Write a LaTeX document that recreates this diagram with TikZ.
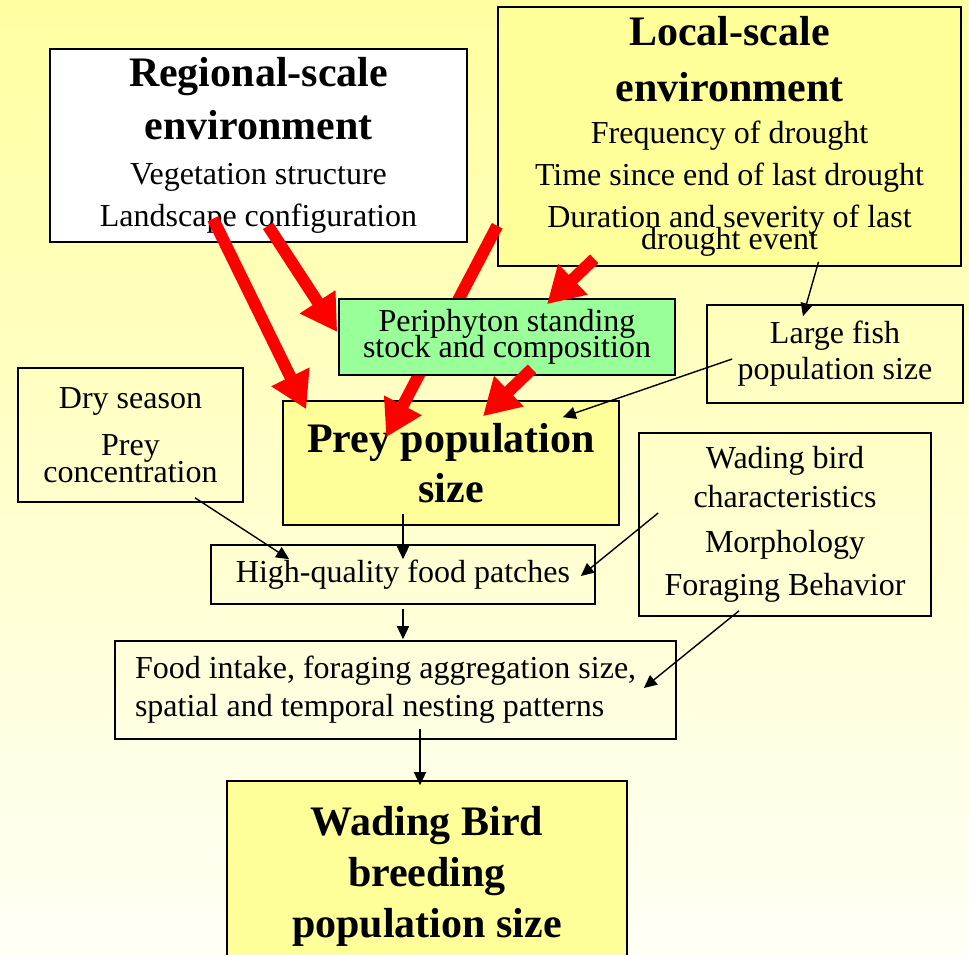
\documentclass[tikz,border=0pt]{standalone}
\usepackage{fontspec}
\setmainfont{Liberation Serif}
\usetikzlibrary{arrows.meta}
\setlength{\lineskiplimit}{-100pt}

\newcommand{\headfont}{\fontsize{42}{50}\selectfont\bfseries}
\definecolor{boxyellow}{RGB}{255,255,153}
\definecolor{boxgreen}{RGB}{153,255,153}

\tikzset{
	box/.style={draw, line width=1.6pt, inner sep=0pt, align=center,
		font=\fontsize{32}{42}\selectfont},
	headbox/.style={box, fill=boxyellow, font=\headfont},
	redarrow/.style={draw=red, line width=12pt, -{Triangle[length=36pt,width=40pt]}},
	blackarrow/.style={line width=1.4pt, -{Triangle[length=13pt,width=12pt]}},
}

\begin{document}
\begin{tikzpicture}[x=1pt,y=-1pt]
		\useasboundingbox (0,0) rectangle (969,954);
		\clip (0,0) rectangle (969,954);
		\shade[top color={rgb,255:red,255;green,255;blue,160},
			middle color={rgb,255:red,255;green,255;blue,218},
			bottom color={rgb,255:red,255;green,255;blue,246}] (0,0) rectangle (969,954);
		
		\node[box, fill=white, minimum width=417pt, minimum height=193pt] (reg) at (258.5,145.5)
			{{\headfont Regional-scale}\\[11pt]{\headfont environment}\\[3pt]Vegetation structure\\Landscape configuration};
		\node[box, fill=boxyellow, minimum width=463pt, minimum height=259pt] (loc) at (729.5,136.5)
			{{\headfont Local-scale}\\[14pt]{\headfont environment}\\Frequency of drought\\Time since end of last drought\\Duration and severity of last\\[-20pt]drought event};
		\node[box, minimum width=256pt, minimum height=98pt] (fish) at (835,354)
			{Large fish\\[-6pt]population size};
		\node[headbox, minimum width=336pt, minimum height=124pt] (prey) at (451,463)
			{Prey population\\size};
		\node[box, minimum width=225pt, minimum height=134pt] (dry) at (130.5,435)
			{Dry season\\[5pt]Prey\\[-15pt]concentration};
		\node[box, minimum width=384pt, minimum height=59pt] (hq) at (403,574.5)
			{High-quality food patches};
		\node[box, minimum width=292pt, minimum height=183pt] (wad) at (785,524.5)
			{Wading bird\\[-3pt]characteristics\\[3pt]Morphology\\[1pt]Foraging Behavior};
		\node[box, align=flush left, text width=521pt, inner xsep=20pt, minimum height=98pt] (food) at (395.5,690)
			{Food intake, foraging aggregation size,\\[-4pt]spatial and temporal nesting patterns};
		\node[headbox, minimum width=400pt, minimum height=190pt, font={\fontsize{42}{51}\selectfont\bfseries}] (wbb) at (427,876)
			{Wading Bird\\breeding\\population size};
		
		%\draw[help lines] (0,0) grid[step=50] (969,954);
		\draw[redarrow] ([shift={(0,-41)}]loc.south west) -- ([shift={(104,37)}]prey.north west);
		
		\node[box, fill=boxgreen, minimum width=336pt, minimum height=76pt, font=\fontsize{32}{26}\selectfont] (peri) at (507,337)
			{Periphyton standing\\stock and composition};
		
		\draw[redarrow] ([shift={(-45.5,-24)}]reg.south) -- ([shift={(24,9)}]prey.north west);
		\draw[redarrow] ([shift={(9.5,-17)}]reg.south) -- ([shift={(-1,-5)}]peri.west);
		\draw[redarrow] ([shift={(97,-8)}]loc.south west) -- ([shift={(40,6)}]peri.north);
		\draw[redarrow] ([shift={(25,-7)}]peri.south) -- ([shift={(32,16)}]prey.north);
		
		\draw[blackarrow] ([shift={(89,-5)}]loc.south) -- ([shift={(-32,12)}]fish.north);
		\draw[blackarrow] ([shift={(26,5)}]fish.west) -- ([shift={(-57,17)}]prey.north east);
		\draw[blackarrow] ([shift={(64.5,-5)}]dry.south) -- ([shift={(79,15)}]hq.north west);
		\draw[blackarrow] ([shift={(-48,-12)}]prey.south) -- ([shift={(0,15)}]hq.north);
		\draw[blackarrow] ([shift={(20,-11.5)}]wad.west) -- ([shift={(-15,1.5)}]hq.east);
		\draw[blackarrow] ([shift={(-46,-6)}]wad.south) -- ([shift={(-33,-2)}]food.east);
		\draw[blackarrow] ([shift={(0,4)}]hq.south) -- ([shift={(7.5,-1)}]food.north);
		\draw[blackarrow] ([shift={(24.5,-11)}]food.south) -- ([shift={(-7,5)}]wbb.north);
	\end{tikzpicture}
\end{document}
